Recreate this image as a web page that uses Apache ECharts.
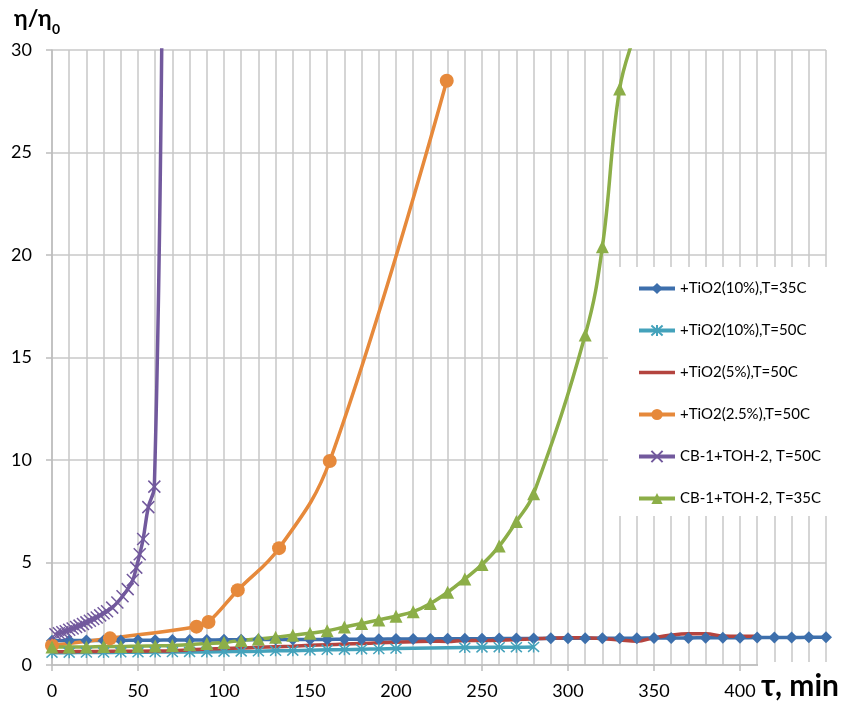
<!DOCTYPE html>
<html>
<head>
<meta charset="utf-8">
<script src="https://cdn.jsdelivr.net/npm/echarts@6/dist/echarts.min.js"></script>
<style>
  html, body { margin: 0; padding: 0; background: #fff; }
  #chart { width: 843px; height: 702px; }
</style>
</head>
<body>
<div id="chart"></div>
<script>
// Relative viscosity η/η0 versus time τ (min)
const seriesNames = [
  '+TiO2(10%),T=35C',
  '+TiO2(10%),T=50C',
  '+TiO2(5%),T=50C',
  '+TiO2(2.5%),T=50C',
  'CB-1+TOH-2, T=50C',
  'CB-1+TOH-2, T=35C'
];

// +TiO2(10%), T=35C
const tio2_10_35_x = [0,10,20,30,40,50,60,70,80,90,100,110,120,130,140,150,160,170,180,190,200,210,220,230,240,250,260,270,280,290,300,310,320,330,340,350,360,370,380,390,400,410,420,430,440,450];
const tio2_10_35_y = [1.18,1.19,1.19,1.2,1.2,1.21,1.21,1.22,1.22,1.22,1.23,1.23,1.24,1.24,1.25,1.25,1.25,1.26,1.26,1.26,1.27,1.27,1.27,1.28,1.28,1.28,1.29,1.29,1.29,1.3,1.3,1.3,1.31,1.31,1.31,1.32,1.32,1.32,1.33,1.33,1.33,1.34,1.34,1.34,1.35,1.35];

// +TiO2(10%), T=50C
const tio2_10_50_x = [0,10,20,30,40,50,60,70,80,90,100,110,120,130,140,150,160,170,180,190,200,240,250,260,270,280];
const tio2_10_50_y = [0.6,0.6,0.61,0.61,0.62,0.62,0.63,0.63,0.64,0.64,0.65,0.66,0.67,0.69,0.7,0.72,0.74,0.75,0.77,0.78,0.8,0.85,0.86,0.87,0.87,0.88];

// +TiO2(5%), T=50C
const tio2_5_50_x = [0,10,20,30,40,50,60,70,80,90,100,110,120,130,140,150,160,170,180,190,200,210,220,230,240,250,260,270,280,290,300,310,320,330,340,350,360,370,380,390,400,410];
const tio2_5_50_y = [0.65,0.65,0.66,0.66,0.67,0.67,0.68,0.7,0.74,0.78,0.8,0.83,0.86,0.89,0.92,0.96,0.99,1.02,1.05,1.08,1.11,1.14,1.16,1.15,1.2,1.2,1.21,1.24,1.28,1.31,1.33,1.33,1.28,1.22,1.16,1.33,1.46,1.52,1.52,1.42,1.4,1.4];

// +TiO2(2.5%), T=50C
const tio2_25_50_x = [0,33.7,84,91,108,132,161.5,229.5];
const tio2_25_50_y = [0.95,1.3,1.87,2.1,3.65,5.7,9.95,28.5];

// CB-1+TOH-2, T=50C (last point lies above the axis maximum)
const cb_50_x = [2,4,6,8,10,12,14,16,18,20,22,24,26,28,30,32,35,38,41,44,47,49,51,53,56,59.5,64];
const cb_50_y = [1.5,1.55,1.6,1.65,1.72,1.78,1.85,1.92,2.0,2.08,2.16,2.24,2.32,2.42,2.52,2.62,2.8,3.05,3.35,3.7,4.15,4.75,5.4,6.15,7.7,8.7,32];

// CB-1+TOH-2, T=35C (last point lies above the axis maximum)
const cb_35_x = [0,10,20,30,40,50,60,70,80,90,100,110,120,130,140,150,160,170,180,190,200,210,220,230,240,250,260,270,280,310,320,330,340];
const cb_35_y = [0.88,0.88,0.88,0.9,0.9,0.92,0.93,0.95,1.0,1.05,1.1,1.2,1.27,1.35,1.45,1.55,1.67,1.85,2.02,2.2,2.38,2.6,3.0,3.55,4.2,4.9,5.8,7.0,8.35,16.1,20.4,28.1,31];

const xTicks = [0,50,100,150,200,250,300,350,400];
const yTicks = [0,5,10,15,20,25,30];

const colors = ['#3D6FAC', '#44A2BB', '#B4443F', '#E6893B', '#72599D', '#8CAE48'];

const pair = (xs, ys) => xs.map((x, i) => [x, ys[i]]);

const crossPath = 'path://M0 0L10 10M10 0L0 10';
const starPath = 'path://M0.5 0.5L9.5 9.5M9.5 0.5L0.5 9.5M5 0L5 10';
const barePath = 'path://M0 0L36 0L36 3.5L0 3.5Z';

const FONT = 'Lato, "Open Sans", "DejaVu Sans", sans-serif';
const gridColor = '#c8c8c8';
const axisColor = '#bdbdbd';

const chart = echarts.init(document.getElementById('chart'), null, { renderer: 'canvas' });

function lineSeries(idx, data, symbol, size, borderWidth) {
  const c = colors[idx];
  return {
    name: seriesNames[idx],
    type: 'line',
    data: data,
    smooth: 0.4,
    symbol: symbol,
    symbolSize: size,
    showAllSymbol: true,
    clip: true,
    lineStyle: { color: c, width: 3.5 },
    itemStyle: { color: c, borderColor: c, borderWidth: borderWidth || 0 },
    emphasis: { disabled: true },
    animation: false
  };
}

const option = {
  animation: false,
  backgroundColor: '#ffffff',
  textStyle: { fontFamily: FONT },
  grid: { left: 52, top: 50, width: 774, height: 615, containLabel: false },
  xAxis: {
    type: 'value',
    min: 0,
    max: 450,
    interval: 50,
    axisLine: { show: true, onZero: false, lineStyle: { color: axisColor, width: 1.5 } },
    axisTick: { show: true, inside: false, length: 6, lineStyle: { color: axisColor, width: 1.5 } },
    splitLine: { show: true, lineStyle: { color: gridColor, width: 1.5 } },
    minorTick: { show: false, splitNumber: 5 },
    minorSplitLine: { show: true, lineStyle: { color: gridColor, width: 1.5 } },
    axisLabel: {
      fontSize: 18, color: '#000', fontFamily: FONT, margin: 17,
      formatter: v => (xTicks.indexOf(v) >= 0 ? String(v) : '')
    }
  },
  yAxis: {
    type: 'value',
    min: 0,
    max: 30,
    interval: 5,
    axisLine: { show: true, onZero: false, lineStyle: { color: axisColor, width: 1.5 } },
    axisTick: { show: true, inside: false, length: 6, lineStyle: { color: axisColor, width: 1.5 } },
    splitLine: { show: true, lineStyle: { color: gridColor, width: 1.5 } },
    axisLabel: {
      fontSize: 18, color: '#000', fontFamily: FONT, margin: 20,
      formatter: v => (yTicks.indexOf(v) >= 0 ? String(v) : '')
    }
  },
  legend: {
    orient: 'vertical',
    left: 608,
    top: 267,
    padding: [14, 40, 10, 29],
    itemGap: 27,
    itemWidth: 36,
    itemHeight: 14,
    backgroundColor: '#ffffff',
    lineStyle: { width: 4 },
    textStyle: { fontSize: 15, color: '#000', fontFamily: FONT },
    data: seriesNames.map((n, i) => (i === 2 ? { name: n, icon: barePath } : { name: n }))
  },
  graphic: [
    { type: 'rect', left: 758, top: 662, z: 100, shape: { width: 85, height: 40 }, style: { fill: '#ffffff' } },
    { type: 'text', left: 761, top: 671, z: 101,
      style: { text: 'τ, min', font: 'bold 30px ' + FONT, fill: '#000' } },
    { type: 'text', left: 14, top: 7, z: 101,
      style: { text: 'η/η', font: 'bold 23px ' + FONT, fill: '#000' } },
    { type: 'text', left: 52, top: 22, z: 101,
      style: { text: '0', font: 'bold 14px ' + FONT, fill: '#000' } }
  ],
  series: [
    lineSeries(0, pair(tio2_10_35_x, tio2_10_35_y), 'diamond', 12),
    lineSeries(1, pair(tio2_10_50_x, tio2_10_50_y), starPath, 11, 1.5),
    lineSeries(2, pair(tio2_5_50_x, tio2_5_50_y), 'none', 0),
    lineSeries(3, pair(tio2_25_50_x, tio2_25_50_y), 'circle', 14),
    lineSeries(4, pair(cb_50_x, cb_50_y), crossPath, 12, 1.5),
    lineSeries(5, pair(cb_35_x, cb_35_y), 'triangle', 13)
  ]
};

chart.setOption(option);
</script>
</body>
</html>
